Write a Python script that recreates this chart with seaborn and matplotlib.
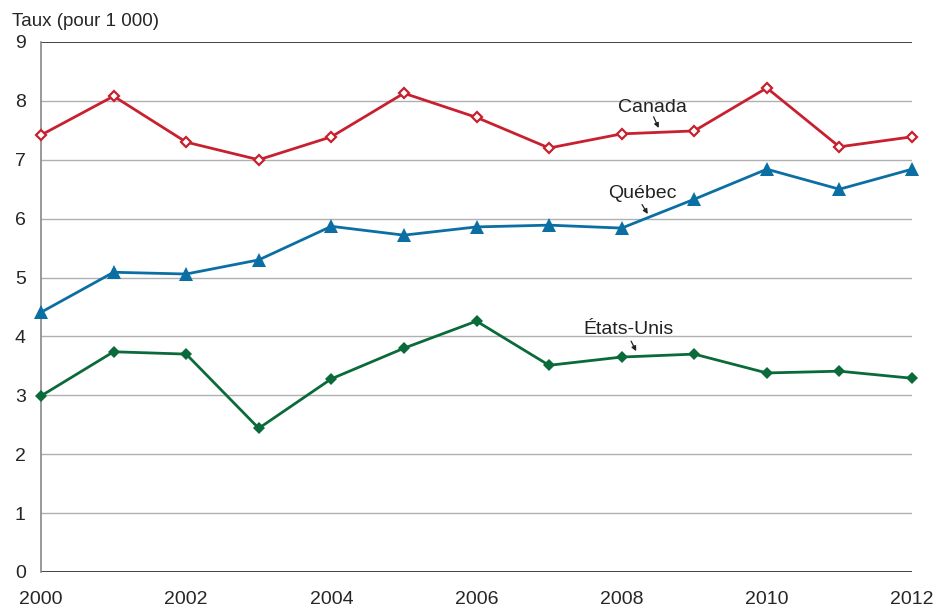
import numpy as np
import pandas as pd
import seaborn as sns
import matplotlib.pyplot as plt

years = list(range(2000, 2013))
canada = [7.42, 8.08, 7.30, 7.00, 7.39, 8.13, 7.72, 7.20, 7.44, 7.49, 8.22, 7.22, 7.39]
quebec = [4.41, 5.09, 5.06, 5.30, 5.87, 5.72, 5.86, 5.89, 5.84, 6.33, 6.84, 6.50, 6.84]
etats_unis = [2.99, 3.74, 3.70, 2.44, 3.28, 3.80, 4.26, 3.51, 3.65, 3.70, 3.38, 3.41, 3.29]

sns.set_style("white")
plt.rcParams['font.family'] = ['Liberation Sans', 'DejaVu Sans']

df = pd.DataFrame({"annee": years, "Canada": canada, "Québec": quebec, "États-Unis": etats_unis})

fig = plt.figure(figsize=(9.44, 6.09), dpi=100)
ax = fig.add_axes([41 / 944, 1 - 572 / 609, (912 - 41) / 944, (572 - 42) / 609])

# grid lines
for v in range(1, 9):
    ax.axhline(v, color='#b0b0b0', lw=1, zorder=0)
ax.axhline(9, color='#222222', lw=1.2, zorder=1)
ax.axhline(0, color='#222222', lw=1.2, zorder=1)

styles = {
    "Canada": dict(color='#c8202f', marker='D', mfc='white', mec='#c8202f', ms=5, mew=1.6),
    "Québec": dict(color='#0b6fa4', marker='^', mfc='#0b6fa4', mec='#0b6fa4', ms=9.5, mew=0),
    "États-Unis": dict(color='#0b6a3a', marker='D', mfc='#0b6a3a', mec='#0b6a3a', ms=6, mew=0),
}
for name, st in styles.items():
    sns.lineplot(data=df, x="annee", y=name, ax=ax, color=st['color'], lw=2, zorder=3)
    ax.plot(df["annee"], df[name], ls='none', marker=st['marker'], mfc=st['mfc'],
            mec=st['mec'], ms=st['ms'], mew=st['mew'], zorder=4, clip_on=False)

ax.set_xlim(2000, 2012)
ax.set_ylim(0, 9)
ax.set_xticks(range(2000, 2013, 2))
ax.set_yticks(range(0, 10))
ax.set_xlabel("")
ax.set_ylabel("")
ax.tick_params(axis='x', direction='in', length=8, color='#888888', labelsize=14, pad=14)
ax.tick_params(axis='y', direction='out', length=6, color='#222222', labelsize=14, pad=5)
for s in ['top', 'right', 'bottom']:
    ax.spines[s].set_visible(False)
ax.spines['left'].set_color('#888888')
ax.spines['left'].set_linewidth(1.2)

fig.text(12 / 944, 1 - 21 / 609, "Taux (pour 1 000)", fontsize=13.5, va='center', ha='left')

# labels with small arrows: (text, text x, text y, arrow start x, y, arrow end x, y)
ann = [("Canada", 2008.42, 7.88, 2008.44, 7.73, 2008.51, 7.54),
       ("Québec", 2008.29, 6.43, 2008.28, 6.24, 2008.36, 6.08),
       ("États-Unis", 2008.10, 4.12, 2008.13, 3.92, 2008.20, 3.75)]
for txt, tx, ty, sx, sy, ex, ey in ann:
    ax.text(tx, ty, txt, fontsize=14, ha='center', va='center', color='#222222', zorder=5)
    ax.annotate("", xy=(ex, ey), xytext=(sx, sy),
                arrowprops=dict(arrowstyle='-|>', color='#222222', lw=0.9,
                                mutation_scale=7, shrinkA=0, shrinkB=0))

fig.savefig("out.png", dpi=100)
